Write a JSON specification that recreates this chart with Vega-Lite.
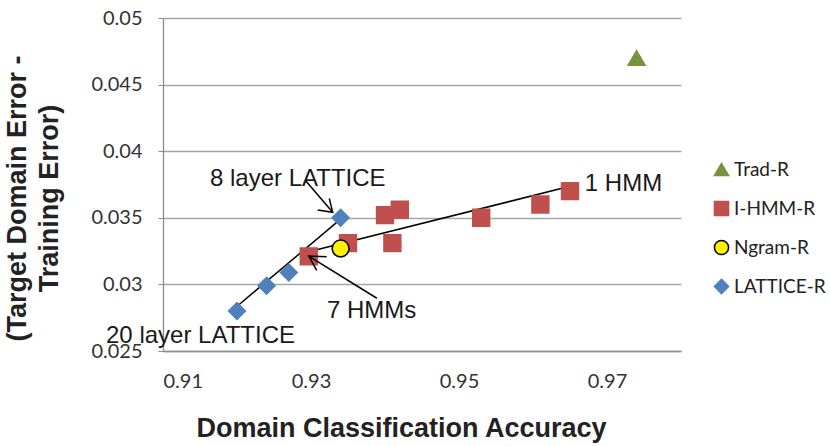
{
  "$schema": "https://vega.github.io/schema/vega-lite/v6.json",
  "width": 518,
  "height": 333,
  "autosize": {"type": "none"},
  "padding": {"left": 163, "top": 18, "right": 149, "bottom": 95},
  "background": "white",
  "config": {
    "view": {"stroke": null},
    "axis": {
      "labelFont": "Lato",
      "labelFontSize": 20,
      "labelColor": "#333333",
      "titleFont": "Liberation Sans",
      "titleFontSize": 27,
      "titleFontWeight": "bold",
      "titleColor": "#222222",
      "domainColor": "#8c8c8c",
      "domainWidth": 1.3,
      "gridColor": "#a6a6a6",
      "gridWidth": 1.3,
      "tickColor": "#8c8c8c"
    }
  },
  "datasets": {
    "points": [
      {"series": "Trad-R", "x": 0.974, "y": 0.047},
      {"series": "I-HMM-R", "x": 0.9297, "y": 0.0321},
      {"series": "I-HMM-R", "x": 0.935, "y": 0.0331},
      {"series": "I-HMM-R", "x": 0.940, "y": 0.0352},
      {"series": "I-HMM-R", "x": 0.942, "y": 0.0356},
      {"series": "I-HMM-R", "x": 0.941, "y": 0.0331},
      {"series": "I-HMM-R", "x": 0.953, "y": 0.035},
      {"series": "I-HMM-R", "x": 0.961, "y": 0.036},
      {"series": "I-HMM-R", "x": 0.965, "y": 0.037},
      {"series": "Ngram-R", "x": 0.934, "y": 0.0327},
      {"series": "LATTICE-R", "x": 0.934, "y": 0.035},
      {"series": "LATTICE-R", "x": 0.927, "y": 0.0309},
      {"series": "LATTICE-R", "x": 0.924, "y": 0.0299},
      {"series": "LATTICE-R", "x": 0.920, "y": 0.028}
    ],
    "lines": [
      {"id": "trend1", "kind": "trend", "o": 1, "x": 0.9201, "y": 0.0284},
      {"id": "trend1", "kind": "trend", "o": 2, "x": 0.934, "y": 0.0349},
      {"id": "trend2", "kind": "trend", "o": 1, "x": 0.9301, "y": 0.0325},
      {"id": "trend2", "kind": "trend", "o": 2, "x": 0.9642, "y": 0.03725},
      {"id": "arrow1", "kind": "arrow", "o": 1, "x": 0.92919, "y": 0.03784},
      {"id": "arrow1", "kind": "arrow", "o": 2, "x": 0.93293, "y": 0.03541},
      {"id": "arrow1a", "kind": "arrow", "o": 1, "x": 0.93091, "y": 0.03559},
      {"id": "arrow1a", "kind": "arrow", "o": 2, "x": 0.93293, "y": 0.03541},
      {"id": "arrow1a", "kind": "arrow", "o": 3, "x": 0.93247, "y": 0.03646},
      {"id": "arrow2", "kind": "arrow", "o": 1, "x": 0.9389, "y": 0.02896},
      {"id": "arrow2", "kind": "arrow", "o": 2, "x": 0.9297, "y": 0.03213},
      {"id": "arrow2a", "kind": "arrow", "o": 1, "x": 0.93212, "y": 0.03208},
      {"id": "arrow2a", "kind": "arrow", "o": 2, "x": 0.9297, "y": 0.03213},
      {"id": "arrow2a", "kind": "arrow", "o": 3, "x": 0.93077, "y": 0.03106}
    ],
    "labels": [
      {"text": "8 layer LATTICE", "x": 0.91635, "y": 0.03739},
      {"text": "20 layer LATTICE", "x": 0.9023, "y": 0.0256},
      {"text": "1 HMM", "x": 0.967, "y": 0.03704},
      {"text": "7 HMMs", "x": 0.93216, "y": 0.02745}
    ]
  },
  "encoding": {
    "x": {
      "field": "x",
      "type": "quantitative",
      "scale": {"domain": [0.91, 0.98], "nice": false, "zero": false},
      "axis": {
        "values": [0.91, 0.93, 0.95, 0.97],
        "format": ".2f",
        "grid": false,
        "ticks": false,
        "labelPadding": 20,
        "title": "Domain Classification Accuracy",
        "titleX": 238,
        "titleY": 85,
        "titleAlign": "center",
        "titleBaseline": "alphabetic"
      }
    },
    "y": {
      "field": "y",
      "type": "quantitative",
      "scale": {"domain": [0.025, 0.05], "nice": false, "zero": false},
      "axis": {
        "values": [0.025, 0.03, 0.035, 0.04, 0.045, 0.05],
        "format": "~g",
        "grid": true,
        "ticks": true,
        "tickSize": 5,
        "labelPadding": 16,
        "title": ["(Target Domain Error -", "Training Error)"],
        "titleAngle": 270,
        "titleX": -146,
        "titleY": 180,
        "titleAlign": "center",
        "titleBaseline": "middle",
        "titleLineHeight": 32
      }
    }
  },
  "layer": [
    {
      "data": {"name": "lines"},
      "transform": [{"filter": "datum.kind === 'trend'"}],
      "mark": {"type": "line", "color": "#000000", "strokeWidth": 1.5},
      "encoding": {
        "detail": {"field": "id"},
        "order": {"field": "o"}
      }
    },
    {
      "data": {"name": "points"},
      "mark": {"type": "point", "filled": true, "size": 285, "strokeWidth": 1.5, "opacity": 1},
      "encoding": {
        "color": {
          "field": "series",
          "type": "nominal",
          "scale": {
            "domain": ["Trad-R", "I-HMM-R", "Ngram-R", "LATTICE-R"],
            "range": ["#77933C", "#C0504D", "#FFF200", "#4F81BD"]
          },
          "legend": {
            "orient": "none",
            "legendX": 549,
            "legendY": 142,
            "title": null,
            "labelFont": "Lato",
            "labelFontSize": 19,
            "labelColor": "#222222",
            "symbolSize": 200,
            "symbolStrokeWidth": 1.5,
            "rowPadding": 18,
            "labelOffset": 3,
            "padding": 0
          }
        },
        "shape": {
          "field": "series",
          "type": "nominal",
          "scale": {
            "domain": ["Trad-R", "I-HMM-R", "Ngram-R", "LATTICE-R"],
            "range": ["triangle-up", "square", "circle", "diamond"]
          }
        },
        "stroke": {
          "field": "series",
          "type": "nominal",
          "scale": {
            "domain": ["Trad-R", "I-HMM-R", "Ngram-R", "LATTICE-R"],
            "range": ["#77933C", "#C0504D", "#000000", "#4F81BD"]
          }
        }
      }
    },
    {
      "data": {"name": "lines"},
      "transform": [{"filter": "datum.kind === 'arrow'"}],
      "mark": {"type": "line", "color": "#000000", "strokeWidth": 1.5},
      "encoding": {
        "detail": {"field": "id"},
        "order": {"field": "o"}
      }
    },
    {
      "data": {"name": "labels"},
      "mark": {"type": "text", "align": "left", "baseline": "alphabetic", "font": "Liberation Sans", "fontSize": 24, "color": "#1a1a1a"},
      "encoding": {
        "text": {"field": "text"}
      }
    }
  ]
}
